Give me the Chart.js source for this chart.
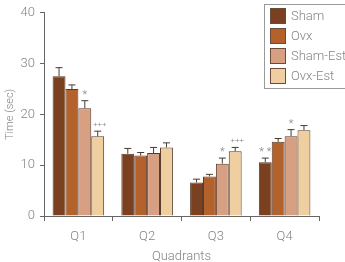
<!DOCTYPE html>
<html>
<head>
<meta charset="utf-8">
<script src="https://cdn.jsdelivr.net/npm/chart.js@4"></script>
<style>
  html, body { margin: 0; padding: 0; background: #fff; }
  #wrap { width: 345px; height: 262px; }
</style>
</head>
<body>
<div id="wrap"><canvas id="chart"></canvas></div>
<script>
const quadrants = ['Q1', 'Q2', 'Q3', 'Q4'];
const groups = ['Sham', 'Ovx', 'Sham-Est', 'Ovx-Est'];
const groupColors = ['#7a4020', '#b2622a', '#d8a082', '#efcf9f'];

// mean time per quadrant
const sham    = [27.5, 12.25, 6.6, 10.6];
const ovx     = [25.0, 11.9, 7.8, 14.6];
const shamEst = [21.2, 12.4, 10.3, 15.7];
const ovxEst  = [15.7, 13.5, 12.75, 16.9];

// SEM (upper error only)
const shamErr    = [1.7, 1.05, 0.65, 0.8];
const ovxErr     = [0.8, 0.6, 0.4, 0.65];
const shamEstErr = [1.5, 1.1, 1.1, 1.3];
const ovxEstErr  = [1.0, 0.9, 0.75, 0.9];

// significance marks above bars
const shamMarks    = ['', '', '', '**'];
const ovxMarks     = ['', '', '', ''];
const shamEstMarks = ['*', '', '*', '*'];
const ovxEstMarks  = ['+++', '', '+++', ''];

const yTicks = [0, 10, 20, 30, 40];

const series = [sham, ovx, shamEst, ovxEst];
const errors = [shamErr, ovxErr, shamEstErr, ovxEstErr];
const marks = [shamMarks, ovxMarks, shamEstMarks, ovxEstMarks];

const FONT = 'Roboto, "Noto Sans", sans-serif';
const GREY = '#858585';
const AXIS = '#666';

const errorBars = {
  id: 'errorBars',
  afterDatasetsDraw(chart) {
    const ctx = chart.ctx;
    const y = chart.scales.y;
    ctx.save();
    chart.data.datasets.forEach((ds, i) => {
      const meta = chart.getDatasetMeta(i);
      meta.data.forEach((bar, j) => {
        const top = y.getPixelForValue(ds.data[j] + errors[i][j]);
        ctx.strokeStyle = '#4a3a30';
        ctx.lineWidth = 1;
        ctx.beginPath();
        ctx.moveTo(bar.x, bar.y);
        ctx.lineTo(bar.x, top);
        ctx.moveTo(bar.x - 3.5, top);
        ctx.lineTo(bar.x + 3.5, top);
        ctx.stroke();
        const m = marks[i][j];
        if (m) {
          const plus = m[0] === '+';
          ctx.fillStyle = GREY;
          ctx.textAlign = 'center';
          ctx.textBaseline = 'bottom';
          ctx.font = (plus ? '300 8px ' : '300 11px ') + FONT;
          ctx.fillText(plus ? m : m.split('').join(' '), bar.x + (plus ? 2 : 0), top - (plus ? 2 : 0));
        }
      });
    });
    ctx.restore();
  }
};

const boxLegend = {
  id: 'boxLegend',
  afterDraw(chart) {
    const ctx = chart.ctx;
    ctx.save();
    ctx.strokeStyle = '#999';
    ctx.lineWidth = 1;
    ctx.strokeRect(264.5, 4.5, 90, 84);
    ctx.font = '300 13px ' + FONT;
    ctx.textAlign = 'left';
    ctx.textBaseline = 'middle';
    chart.data.datasets.forEach((ds, i) => {
      const top = 8 + i * 20;
      ctx.fillStyle = ds.backgroundColor;
      ctx.fillRect(270, top, 16, 16);
      ctx.strokeStyle = '#6a4a38';
      ctx.strokeRect(270.5, top + 0.5, 15, 15);
      ctx.fillStyle = GREY;
      ctx.fillText(ds.label, 291, top + 8.5);
    });
    ctx.restore();
  }
};

new Chart('chart', {
  type: 'bar',
  data: {
    labels: quadrants,
    datasets: groups.map((g, i) => ({
      label: g,
      data: series[i],
      backgroundColor: groupColors[i],
      borderColor: '#5a3a2a',
      borderWidth: 1,
      categoryPercentage: 0.75,
      barPercentage: 1.0
    }))
  },
  options: {
    responsive: true,
    maintainAspectRatio: false,
    animation: false,
    layout: { padding: { top: 8, right: 26, left: 0, bottom: 0 } },
    plugins: { legend: { display: false }, tooltip: { enabled: false } },
    scales: {
      x: {
        grid: { display: true, drawOnChartArea: false, offset: true, tickLength: 5, color: AXIS },
        border: { color: AXIS, width: 1 },
        ticks: { color: GREY, font: { family: FONT, size: 13, weight: '300' }, padding: 8 },
        title: { display: true, text: 'Quadrants', color: GREY, font: { family: FONT, size: 13, weight: '300' }, padding: { top: 0, bottom: -3 } },
        afterFit(s) { s.height = 46; }
      },
      y: {
        min: 0,
        max: 40,
        afterBuildTicks(s) { s.ticks = yTicks.map(v => ({ value: v })); },
        grid: { display: true, drawOnChartArea: false, tickLength: 4, color: AXIS },
        border: { color: AXIS, width: 1 },
        ticks: { color: GREY, font: { family: FONT, size: 13, weight: '300' }, padding: 5 },
        title: { display: true, text: 'Time (sec)', color: GREY, font: { family: FONT, size: 11, weight: '300' }, padding: { bottom: 2 } },
        afterFit(s) { s.width = 44; }
      }
    }
  },
  plugins: [errorBars, boxLegend]
});
</script>
</body>
</html>
